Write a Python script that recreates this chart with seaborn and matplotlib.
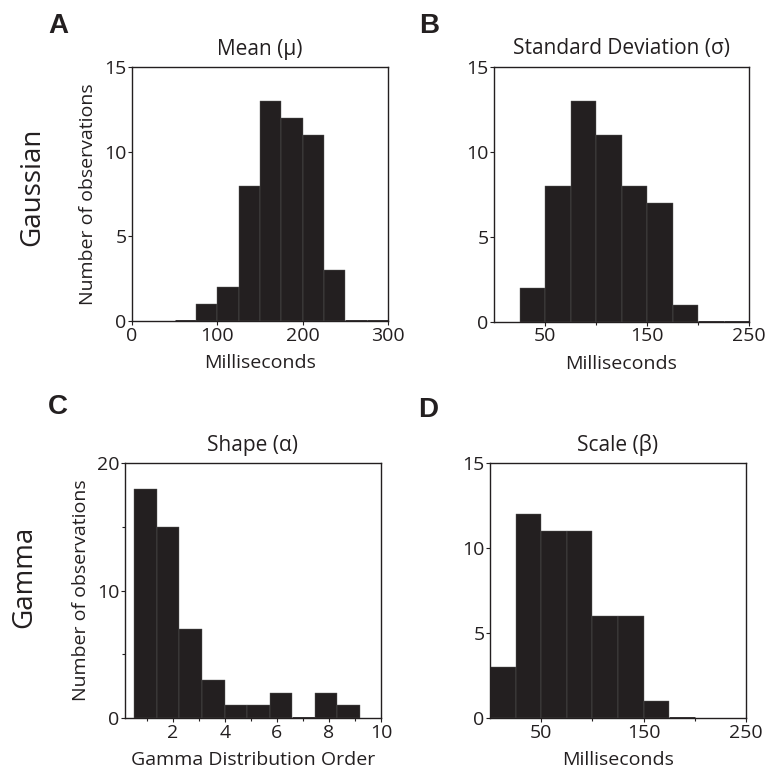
import numpy as np
import pandas as pd
import matplotlib
matplotlib.use("Agg")
import matplotlib.pyplot as plt
import seaborn as sns

# Histogram bins (edges) and counts
meanEdges = [50, 75, 100, 125, 150, 175, 200, 225, 250, 275, 300]
meanCounts = [0, 1, 2, 8, 13, 12, 11, 3, 0, 0]

sdEdges = [25, 50, 75, 100, 125, 150, 175, 200, 225, 250]
sdCounts = [2, 8, 13, 11, 8, 7, 1, 0, 0]

shapeEdges = [0.53, 1.40, 2.26, 3.13, 4.00, 4.86, 5.73, 6.60, 7.46, 8.33, 9.20]
shapeCounts = [18, 15, 7, 3, 1, 1, 2, 0, 2, 1]

scaleEdges = [0, 25, 50, 75, 100, 125, 150, 175, 200]
scaleCounts = [3, 12, 11, 11, 6, 6, 1, 0]

panelTitles = ["Mean (\u03bc)", "Standard Deviation (\u03c3)", "Shape (\u03b1)", "Scale (\u03b2)"]
panelLetters = ["A", "B", "C", "D"]
rowLabels = ["Gaussian", "Gamma"]

barColor = "#231f20"

sns.set_style("ticks")
plt.rcParams['font.family'] = ['Open Sans', 'DejaVu Sans']
plt.rcParams['axes.linewidth'] = 1.0
plt.rcParams['axes.edgecolor'] = barColor


def drawHist(ax, edges, counts):
    e = np.asarray(edges, dtype=float)
    df = pd.DataFrame({"value": (e[:-1] + e[1:]) / 2, "count": counts})
    sns.histplot(data=df, x="value", weights="count", bins=list(edges), ax=ax,
                 color=barColor, edgecolor="#5e5e5e", linewidth=0.3, alpha=1)
    for p in ax.patches:
        if p.get_height() == 0:
            p.set_edgecolor(barColor)
            p.set_linewidth(2)


fig = plt.figure(figsize=(7.65, 7.68), dpi=100)
axA = fig.add_axes([0.1725, 0.582, 0.3346, 0.3307])
axB = fig.add_axes([0.6458, 0.581, 0.3333, 0.332])
axC = fig.add_axes([0.1634, 0.065, 0.3346, 0.332])
axD = fig.add_axes([0.6405, 0.065, 0.3346, 0.332])

drawHist(axA, meanEdges, meanCounts)
drawHist(axB, sdEdges, sdCounts)
drawHist(axC, shapeEdges, shapeCounts)
drawHist(axD, scaleEdges, scaleCounts)

fs = 14
axA.set_xlim(0, 300)
axA.set_xticks([0, 100, 200, 300])
axA.set_ylim(0, 15)
axA.set_yticks([0, 5, 10, 15])

axB.set_xlim(0, 250)
axB.set_xticks([50, 150, 250])
axB.set_xticks([100, 200], minor=True)
axB.set_ylim(0, 15)
axB.set_yticks([0, 5, 10, 15])

axC.set_xlim(0.17, 10)
axC.set_xticks([2, 4, 6, 8, 10])
axC.set_xticks([1, 3, 5, 7, 9], minor=True)
axC.set_ylim(0, 20)
axC.set_yticks([0, 10, 20])
axC.set_yticks([5, 15], minor=True)

axD.set_xlim(0, 250)
axD.set_xticks([50, 150, 250])
axD.set_xticks([100, 200], minor=True)
axD.set_ylim(0, 15)
axD.set_yticks([0, 5, 10, 15])

xLabels = ["Milliseconds", "Milliseconds", "Gamma Distribution Order", "Milliseconds"]
for ax, title, xl in zip([axA, axB, axC, axD], panelTitles, xLabels):
    for s in ax.spines.values():
        s.set_visible(True)
        s.set_linewidth(1.0)
    ax.set_title(title, fontsize=15, pad=9, color=barColor)
    ax.set_xlabel(xl, fontsize=fs, labelpad=7, color=barColor)
    ax.set_ylabel("")
    ax.tick_params(axis="both", which="major", direction="out", length=3, width=0.8,
                   labelsize=fs, pad=1, colors=barColor)
    ax.tick_params(axis="both", which="minor", direction="out", length=2.5, width=0.8,
                   colors=barColor)

axA.set_ylabel("Number of observations", fontsize=fs, labelpad=5, color=barColor)
axC.set_ylabel("Number of observations", fontsize=fs, labelpad=5, color=barColor)

letterPos = [(0.063, 0.966), (0.548, 0.966), (0.063, 0.47), (0.547, 0.466)]
for letter, (lx, ly) in zip(panelLetters, letterPos):
    fig.text(lx, ly, letter, fontsize=20, fontweight="bold", family="Liberation Sans",
             ha="left", va="center", color=barColor)

fig.text(0.042, 1 - 187 / 768, rowLabels[0], rotation=90, fontsize=20,
         ha="center", va="center", color=barColor)
fig.text(0.032, 1 - 577 / 768, rowLabels[1], rotation=90, fontsize=20,
         ha="center", va="center", color=barColor)

fig.savefig("out.png", dpi=100)
